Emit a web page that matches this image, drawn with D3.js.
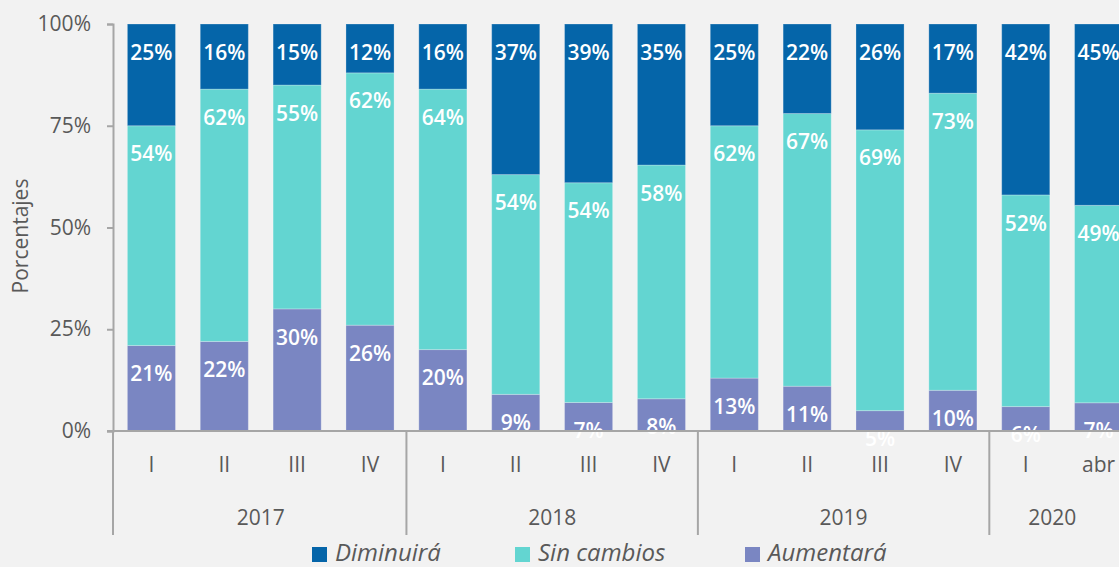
<!DOCTYPE html>
<html lang="es">
    <head>
        <meta charset="utf-8">
        <title>Expectativas</title>
        <script type="text/javascript" src="https://d3js.org/d3.v7.min.js"></script>
        <style>
            body { margin: 0; background: #f2f2f2; }
            text { font-family: "Open Sans", Lato, sans-serif; }
            .tick text, .cat, .year { fill: #595959; }
            .lbl { fill: white; font-weight: 600; }
        </style>
    </head>
    <body>
        <svg id="chart" width="1119" height="567"></svg>
    </body>
    <script>
        // quarters and years
        let quarters = ["I","II","III","IV","I","II","III","IV","I","II","III","IV","I","abr"];
        let years = ["2017","2018","2019","2020"];
        let yearSize = [4, 4, 4, 2];

        // series values (percent)
        let aumentara  = [21, 22, 30, 26, 20,  9,  7,  8, 13, 11,  5, 10,  6,  7];
        let sinCambios = [54, 62, 55, 62, 64, 54, 54, 58, 62, 67, 69, 73, 52, 49];
        let diminuira  = [25, 16, 15, 12, 16, 37, 39, 35, 25, 22, 26, 17, 42, 45];

        let seriesNames = ["Aumentará", "Sin cambios", "Diminuirá"];
        let yTicks = [0, 0.25, 0.5, 0.75, 1];

        let colors = {"Aumentará": "#7a86c2", "Sin cambios": "#63d5d1", "Diminuirá": "#0565a9"};

        let rows = quarters.map((q, i) => ({
            idx: i,
            "Aumentará": aumentara[i],
            "Sin cambios": sinCambios[i],
            "Diminuirá": diminuira[i]
        }));

        let svg = d3.select("#chart");
        let plotTop = 24, plotBottom = 431, plotLeft = 114;

        let x = d3.scaleBand()
                .domain(d3.range(quarters.length))
                .range([plotLeft + 1, plotLeft + 1 + 14 * 72.86])
                .paddingInner(0.34)
                .paddingOuter(0.17);
        let step = x.step();

        let y = d3.scaleLinear().domain([0, 1]).range([plotBottom, plotTop]);

        let stack = d3.stack().keys(seriesNames).offset(d3.stackOffsetExpand);
        let series = stack(rows);

        // y axis
        let yAxis = svg.append("g")
            .attr("transform", "translate(" + (plotLeft - 1) + ",0)")
            .call(d3.axisLeft(y).tickValues(yTicks).tickFormat(d3.format(".0%")).tickSize(6).tickPadding(16));
        yAxis.select(".domain").attr("stroke", "#a6a6a6").attr("stroke-width", 2);
        yAxis.selectAll(".tick line").attr("stroke", "#a6a6a6").attr("stroke-width", 2);
        yAxis.selectAll(".tick text").style("font-size", "21px").attr("fill", "#595959");

        svg.append("text")
            .attr("transform", "translate(22,236) rotate(-90)")
            .attr("text-anchor", "middle")
            .attr("dominant-baseline", "middle")
            .style("font-size", "21px")
            .attr("fill", "#595959")
            .text("Porcentajes");

        // bars
        let layer = svg.selectAll(".layer")
            .data(series)
            .enter()
            .append("g")
            .attr("fill", d => colors[d.key]);

        layer.selectAll("rect")
            .data(d => d)
            .enter()
            .append("rect")
            .attr("x", (d, i) => x(i))
            .attr("width", x.bandwidth())
            .attr("y", d => y(d[1]))
            .attr("height", d => y(d[0]) - y(d[1]))
            .attr("stroke", "#ffffff")
            .attr("stroke-opacity", 0.25)
            .attr("stroke-width", 1);

        // x axis line
        svg.append("line")
            .attr("x1", plotLeft - 7).attr("x2", 1119)
            .attr("y1", plotBottom).attr("y2", plotBottom)
            .attr("stroke", "#a6a6a6").attr("stroke-width", 2);

        // data labels (near top of segment)
        layer.selectAll(".lbl")
            .data(d => d.map(v => ({v: v, key: d.key})))
            .enter()
            .append("text")
            .attr("class", "lbl")
            .attr("x", (d, i) => x(i) + x.bandwidth() / 2)
            .attr("y", d => y(d.v[1]) + 30)
            .attr("text-anchor", "middle")
            .attr("dominant-baseline", "middle")
            .style("font-size", "21px")
            .text(d => d.v.data[d.key] + "%");

        // category labels
        svg.selectAll(".cat")
            .data(quarters)
            .enter()
            .append("text")
            .attr("class", "cat")
            .attr("x", (d, i) => x(i) + x.bandwidth() / 2)
            .attr("y", 466)
            .attr("text-anchor", "middle")
            .attr("dominant-baseline", "middle")
            .style("font-size", "21px")
            .text(d => d);

        // year groups
        let starts = [];
        let acc = 0;
        yearSize.forEach(n => { starts.push(acc); acc += n; });

        svg.selectAll(".sep")
            .data(starts)
            .enter()
            .append("line")
            .attr("x1", d => d === 0 ? plotLeft - 1 : x.range()[0] + d * step)
            .attr("x2", d => d === 0 ? plotLeft - 1 : x.range()[0] + d * step)
            .attr("y1", plotBottom)
            .attr("y2", 535)
            .attr("stroke", "#a6a6a6")
            .attr("stroke-width", 2);

        svg.selectAll(".year")
            .data(years)
            .enter()
            .append("text")
            .attr("class", "year")
            .attr("x", (d, i) => {
                let c = (starts[i] + yearSize[i] / 2) * step + x.range()[0];
                return i === years.length - 1 ? c - 10 : c;
            })
            .attr("y", 519)
            .attr("text-anchor", "middle")
            .attr("dominant-baseline", "middle")
            .style("font-size", "21px")
            .text(d => d);

        // legend
        let legendItems = ["Diminuirá", "Sin cambios", "Aumentará"];
        let legendX = [312, 515, 745];
        let legend = svg.selectAll(".leg")
            .data(legendItems)
            .enter()
            .append("g")
            .attr("transform", (d, i) => "translate(" + legendX[i] + ",547)");
        legend.append("rect")
            .attr("width", 15).attr("height", 15)
            .attr("fill", d => colors[d]);
        legend.append("text")
            .attr("x", 23).attr("y", 8)
            .attr("dominant-baseline", "middle")
            .style("font-size", "24px")
            .style("font-style", "italic")
            .attr("fill", "#595959")
            .text(d => d);
    </script>
</html>
